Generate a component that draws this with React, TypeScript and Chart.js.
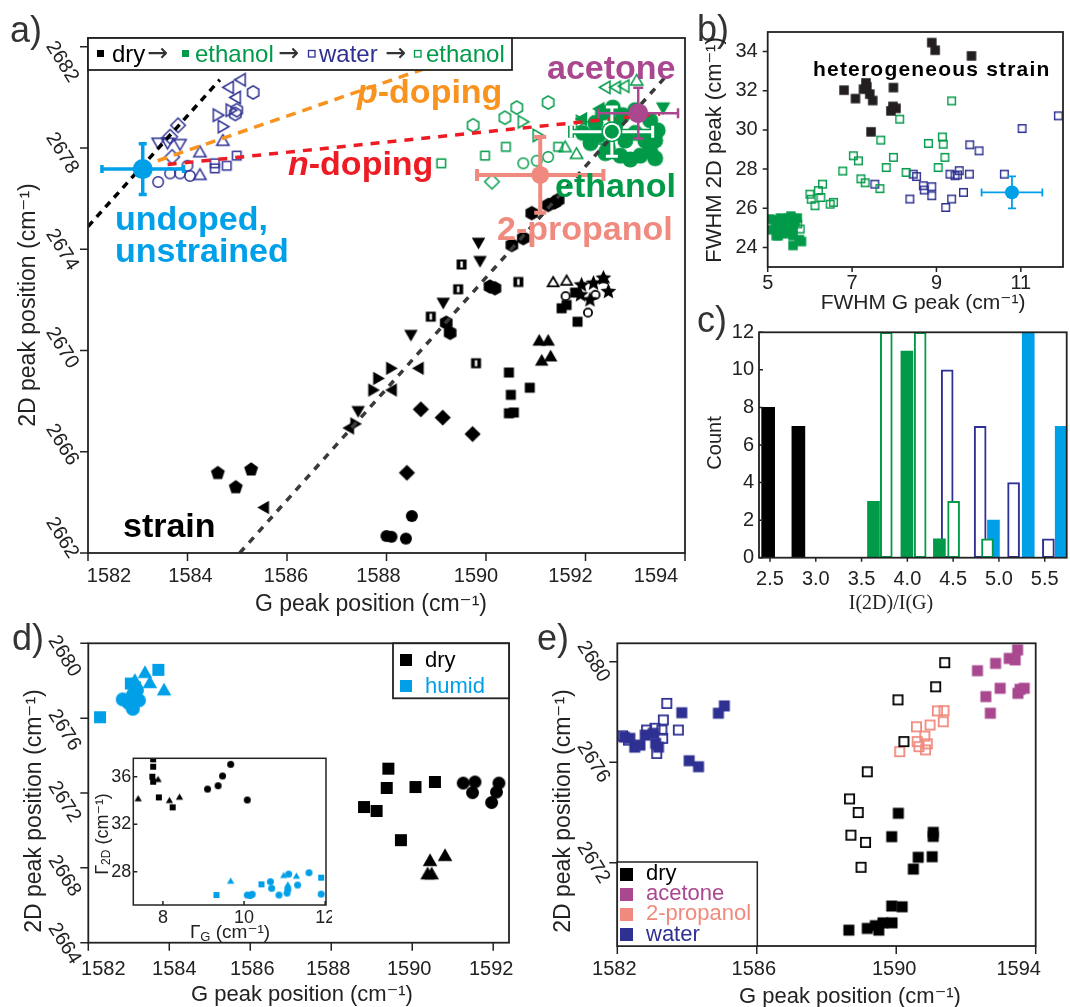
import React, { useEffect, useRef } from 'react';
import { Chart, registerables } from 'chart.js';

Chart.register(...registerables);

type Pt = [number, number];

const SANS = '"Liberation Sans", Arial, "DejaVu Sans", sans-serif';
const SERIF = '"Liberation Serif", "Times New Roman", serif';
const ARROWFONT = '"DejaVu Sans", sans-serif';

const BLACK = '#000000';
const DARK = '#231f20';
const GREEN = '#009a49';
const NAVY = '#2e3192';
const SKY = '#00a0e9';
const SALMON = '#f08a7e';
const PURPLE = '#a9478f';
const ORANGE = '#f7931e';
const RED = '#ed1c24';
const INK = '#222222';

// ================= Panel a data =================
const aTicksX = [1582, 1584, 1586, 1588, 1590, 1592, 1594];
const aTicksY = [2662, 2666, 2670, 2674, 2678, 2682];

const dryPentagon: Pt[] = [[1584.61, 2665.16], [1584.97, 2664.6], [1585.28, 2665.3]];
const dryTriLeft: Pt[] = [[1585.56, 2663.8], [1588.13, 2668.44], [1588.67, 2669.3], [1587.27, 2666.94]];
const dryTriRight: Pt[] = [[1587.71, 2668.44], [1587.81, 2668.9], [1588.07, 2669.3], [1587.35, 2667.1]];
const dryTriDown: Pt[] = [[1587.43, 2667.65], [1588.49, 2670.66], [1589.14, 2671.93], [1589.88, 2673.58], [1589.85, 2674.3]];
const dryHalfSquare: Pt[] = [[1588.89, 2671.34], [1589.44, 2672.42], [1589.51, 2673.4], [1589.8, 2669.5], [1590.65, 2672.71]];
const dryHexagon: Pt[] = [[1589.2, 2671.1], [1589.28, 2670.7], [1590.08, 2672.53], [1590.18, 2672.46], [1590.52, 2674.17], [1590.75, 2674.44], [1590.92, 2675.43], [1591.25, 2675.75], [1591.38, 2675.85], [1591.45, 2675.95]];
const dryDiamond: Pt[] = [[1588.69, 2667.68], [1589.13, 2667.35], [1589.73, 2666.7], [1588.41, 2665.17]];
const dryCircle: Pt[] = [[1588.0, 2662.67], [1588.1, 2662.64], [1588.39, 2662.57], [1588.51, 2663.46]];
const drySquare: Pt[] = [[1590.46, 2669.13], [1590.5, 2668.25], [1590.46, 2667.52], [1590.56, 2667.55], [1590.88, 2668.53], [1591.52, 2671.67], [1591.84, 2671.14], [1591.79, 2672.29], [1591.62, 2671.8]];
const dryTriUp: Pt[] = [[1591.07, 2670.35], [1591.25, 2670.35], [1591.3, 2669.73], [1591.12, 2669.56], [1592.36, 2672.82]];
const dryTriOpen: Pt[] = [[1591.35, 2672.66], [1591.62, 2672.72]];
const dryStar: Pt[] = [[1591.92, 2672.59], [1592.16, 2672.66], [1592.36, 2672.86], [1592.46, 2672.33], [1592.09, 2672.0], [1591.9, 2672.2]];
const dryCircleOpen: Pt[] = [[1591.6, 2672.15], [1592.05, 2671.5], [1592.2, 2672.2]];

const waterCircle: Pt[] = [[1583.41, 2676.66], [1583.65, 2677.0], [1583.85, 2677.0], [1584.05, 2676.9], [1584.0, 2677.3]];
const waterTriUp: Pt[] = [[1584.25, 2677.8], [1584.25, 2676.9], [1584.71, 2678.25]];
const waterSquare: Pt[] = [[1584.55, 2677.4], [1584.55, 2677.2], [1584.79, 2677.3], [1584.99, 2677.7]];
const waterDiamond: Pt[] = [[1583.81, 2678.9], [1583.69, 2677.65], [1583.65, 2678.45]];
const waterTriDown: Pt[] = [[1583.41, 2678.25], [1583.6, 2678.25], [1583.85, 2678.2]];
const waterTriRight: Pt[] = [[1584.59, 2679.3], [1584.69, 2678.85], [1584.85, 2679.5]];
const waterTriLeft: Pt[] = [[1584.85, 2680.4], [1585.09, 2680.7], [1584.99, 2680.0]];
const waterHexagon: Pt[] = [[1585.32, 2680.2], [1584.99, 2679.5], [1584.96, 2679.35]];

const ethOpenHexagon: Pt[] = [[1589.74, 2678.9], [1590.38, 2679.2], [1590.62, 2679.6], [1591.25, 2679.8]];
const ethOpenSquare: Pt[] = [[1589.98, 2677.7], [1590.4, 2678.05], [1589.1, 2677.4], [1591.45, 2678.05]];
const ethOpenTriRight: Pt[] = [[1590.72, 2679.04], [1591.02, 2678.5], [1591.89, 2679.05]];
const ethOpenCircle: Pt[] = [[1590.75, 2677.4], [1591.02, 2677.5], [1591.25, 2677.65]];
const ethOpenDiamond: Pt[] = [[1590.12, 2676.67]];
const ethOpenTriUp: Pt[] = [[1591.59, 2678.0], [1591.82, 2677.73], [1592.29, 2678.3], [1593.03, 2680.63]];
const ethOpenTriLeft: Pt[] = [[1592.42, 2680.4], [1592.63, 2680.4], [1592.8, 2680.45]];

const ethFilledCircle: Pt[] = [[1591.95, 2678.6], [1592.1, 2678.2], [1592.2, 2679.0], [1592.35, 2679.4], [1592.55, 2679.6], [1592.45, 2678.0], [1592.7, 2677.7], [1592.9, 2677.55], [1593.1, 2677.7], [1593.3, 2677.9], [1593.4, 2678.3], [1593.45, 2678.7], [1593.3, 2679.1], [1592.8, 2678.3], [1592.6, 2678.9], [1593.0, 2678.6], [1592.25, 2678.5], [1593.2, 2678.3], [1592.4, 2677.8], [1593.4, 2677.6], [1592.75, 2679.3], [1593.0, 2679.5]];
const ethFilledTriDown: Pt[] = [[1593.56, 2679.64]];
const ethFilledTriLeft: Pt[] = [[1592.3, 2679.55], [1591.95, 2679.15]];

const strainLeft: Pt[] = [[1582.0, 2674.9], [1584.65, 2680.7]];
const strainRight: Pt[] = [[1585.05, 2662.0], [1593.6, 2680.8]];
const pDopingLine: Pt[] = [[1583.4, 2677.5], [1589.0, 2681.3]];
const nDopingLine: Pt[] = [[1583.6, 2677.35], [1593.5, 2679.35]];

// error-bar points: undoped, 2-propanol, ethanol, acetone
const aErrCenters: Pt[] = [[1583.1, 2677.17], [1591.09, 2676.94], [1592.53, 2678.65], [1593.06, 2679.38]];
const aErrX = [0.82, 1.27, 0.82, 0.8];
const aErrY = [1.0, 1.5, 0.97, 1.0];

// ================= Panel b data =================
const bTicksX = [5, 7, 9, 11];
const bTicksY = [24, 26, 28, 30, 32, 34];
const bDry: Pt[] = [[6.81, 32.03], [7.08, 31.6], [7.33, 32.4], [7.27, 32.08], [7.42, 31.83], [7.49, 31.5], [7.45, 29.9], [7.98, 32.16], [7.92, 30.97], [8.04, 31.1], [7.97, 31.2], [8.89, 34.46], [8.97, 34.07], [9.83, 33.78], [7.35, 32.2]];
const bEthOpen: Pt[] = [[8.13, 30.55], [7.68, 29.48], [9.36, 31.48], [8.81, 29.31], [9.14, 29.64], [9.16, 29.27], [9.2, 28.6], [9.04, 28.08], [7.98, 28.6], [7.81, 28.08], [7.03, 28.68], [7.15, 28.42], [6.78, 27.9], [7.21, 27.5], [7.31, 27.3], [7.66, 27.0], [8.28, 27.83], [6.0, 26.72], [6.03, 26.46], [6.2, 26.9], [6.3, 27.23], [6.26, 26.55], [6.12, 26.13], [6.48, 26.21], [6.56, 26.3], [5.77, 24.94], [5.71, 25.2]];
const bWaterOpen: Pt[] = [[11.89, 30.72], [11.03, 30.07], [9.79, 29.24], [10.01, 28.93], [10.61, 27.74], [9.78, 27.74], [9.32, 27.74], [9.44, 27.66], [9.54, 27.92], [9.5, 27.7], [8.45, 27.74], [8.53, 27.62], [7.54, 27.23], [8.69, 27.15], [8.71, 26.93], [8.89, 27.1], [8.89, 26.64], [8.37, 26.47], [9.36, 26.47], [9.22, 26.04], [9.64, 26.81]];
const bEthFilled: Pt[] = [[5.05, 25.45], [5.15, 25.4], [5.2, 25.1], [5.3, 24.9], [5.25, 24.6], [5.35, 25.3], [5.45, 25.0], [5.5, 25.5], [5.55, 25.6], [5.4, 24.7], [5.6, 24.6], [5.65, 25.3], [5.7, 25.5], [5.6, 24.1], [5.8, 24.3], [5.35, 24.8], [5.1, 24.9], [5.5, 24.8], [5.45, 25.4], [5.3, 25.5], [5.2, 24.6], [5.75, 24.4], [5.3, 25.1], [5.6, 25.0]];
const bErrCenter: Pt = [10.79, 26.81];
const bErrXY = [0.72, 0.82];

// ================= Panel c data =================
const cTicksX = [2.5, 3.0, 3.5, 4.0, 4.5, 5.0, 5.5];
const cTicksY = [0, 2, 4, 6, 8, 10, 12];
const cDryX = [2.48, 2.81];
const cDryN = [8, 7];
const cEthFilledX = [3.63, 3.995, 4.35];
const cEthFilledN = [3, 11, 1];
const cEthOpenX = [3.77, 4.14, 4.505, 4.875];
const cEthOpenN = [12, 12, 3, 1];
const cWaterX = [4.435, 4.795, 5.16, 5.54];
const cWaterN = [10, 7, 4, 1];
const cHumidX = [4.94, 5.32, 5.68];
const cHumidN = [2, 12, 7];

// ================= Panel d data =================
const dTicksX = [1582, 1584, 1586, 1588, 1590, 1592];
const dTicksY = [2664, 2668, 2672, 2676, 2680];
const dHumidSquare: Pt[] = [[1582.29, 2676.05], [1583.73, 2678.58], [1583.15, 2677.65], [1583.05, 2677.85]];
const dHumidTri: Pt[] = [[1583.4, 2678.37], [1583.52, 2677.83], [1583.87, 2677.44], [1583.15, 2677.95]];
const dHumidCircle: Pt[] = [[1582.85, 2677.0], [1583.0, 2676.8], [1583.1, 2676.5], [1583.25, 2676.95], [1583.1, 2677.25], [1583.2, 2677.5]];
const dDrySquare: Pt[] = [[1588.81, 2671.25], [1589.12, 2671.04], [1589.41, 2673.3], [1589.37, 2672.27], [1590.08, 2672.32], [1590.56, 2672.59], [1589.72, 2669.48]];
const dDryTri: Pt[] = [[1590.44, 2668.32], [1590.48, 2667.61], [1590.38, 2667.61], [1590.81, 2668.59]];
const dDryCircle: Pt[] = [[1591.26, 2672.53], [1591.55, 2672.59], [1591.49, 2672.02], [1591.96, 2671.49], [1592.08, 2672.05], [1592.14, 2672.53]];

// inset of d
const inTicksX = [8, 10, 12];
const inTicksY = [28, 32, 36];
const inDrySquare: Pt[] = [[7.76, 37.46], [7.76, 36.84], [7.74, 36.0], [7.76, 35.58], [7.9, 34.26], [8.24, 33.42]];
const inDryTri: Pt[] = [[7.39, 34.1], [7.88, 35.72], [8.16, 33.95], [8.41, 34.23]];
const inDryCircle: Pt[] = [[9.1, 34.96], [9.36, 35.24], [9.47, 36.06], [9.67, 37.04], [10.08, 34.04]];
const inHumidSquare: Pt[] = [[9.32, 26.04], [10.43, 26.94], [11.9, 27.5]];
const inHumidTri: Pt[] = [[9.67, 27.16], [10.98, 27.64], [11.08, 26.85], [11.29, 27.58]];
const inHumidCircle: Pt[] = [[10.08, 26.04], [10.15, 26.0], [10.2, 26.1], [10.65, 27.16], [10.68, 26.6], [10.86, 26.04], [11.1, 27.8], [11.08, 26.52], [11.06, 26.2], [11.32, 26.88], [11.6, 27.92], [11.9, 26.12]];

// ================= Panel e data =================
const eTicksX = [1582, 1586, 1590, 1594];
const eTicksY = [2672, 2676, 2680];
const eWaterFilled: Pt[] = [[1582.2, 2677.0], [1582.36, 2676.95], [1582.5, 2676.6], [1582.65, 2676.68], [1582.8, 2677.08], [1583.03, 2677.15], [1583.1, 2676.75], [1583.18, 2676.6], [1583.85, 2677.97], [1584.06, 2676.06], [1584.33, 2675.82], [1584.9, 2677.95], [1585.07, 2678.24]];
const eWaterOpen: Pt[] = [[1583.42, 2678.34], [1583.32, 2677.68], [1582.84, 2677.28], [1582.32, 2676.88], [1583.75, 2677.28], [1583.28, 2677.28], [1583.3, 2676.95], [1583.13, 2676.35], [1582.15, 2677.05], [1583.08, 2677.35]];
const eDryOpen: Pt[] = [[1591.39, 2679.96], [1591.13, 2679.0], [1590.05, 2678.48], [1590.22, 2676.82], [1589.17, 2675.62], [1588.66, 2674.54], [1588.91, 2674.0], [1588.7, 2673.1], [1589.12, 2672.81], [1588.99, 2671.82]];
const eDryFilled: Pt[] = [[1590.06, 2673.97], [1589.87, 2673.04], [1591.06, 2673.21], [1591.06, 2673.05], [1591.03, 2672.24], [1590.63, 2672.22], [1590.49, 2671.75], [1589.87, 2670.28], [1590.17, 2670.25], [1589.88, 2669.61], [1589.62, 2669.61], [1589.17, 2669.39], [1589.5, 2669.32], [1588.64, 2669.32], [1589.4, 2669.5]];
const eAcetone: Pt[] = [[1592.33, 2679.64], [1592.85, 2679.93], [1593.24, 2680.13], [1593.48, 2680.47], [1593.41, 2680.07], [1592.57, 2678.61], [1592.98, 2678.94], [1592.7, 2677.95], [1593.49, 2678.74], [1593.67, 2678.94], [1593.55, 2678.9]];
const ePropanol: Pt[] = [[1590.1, 2676.42], [1590.58, 2677.41], [1590.97, 2677.48], [1590.82, 2677.04], [1590.6, 2676.82], [1590.65, 2676.62], [1590.84, 2676.49], [1590.89, 2676.73], [1591.18, 2678.04], [1591.37, 2678.05], [1591.35, 2677.61]];

// ================= helpers =================
const markerCache = new Map<string, HTMLCanvasElement>();
function marker(shape: string, size: number, color: string, filled: boolean, lw = 1.5): HTMLCanvasElement {
  const key = [shape, size, color, filled, lw].join('|');
  const hit = markerCache.get(key);
  if (hit) return hit;
  const ext = Math.ceil(size * 1.35 + lw * 2 + 2);
  const c = document.createElement('canvas');
  c.width = ext;
  c.height = ext;
  const g = c.getContext('2d') as CanvasRenderingContext2D;
  g.translate(ext / 2, ext / 2);
  g.fillStyle = color;
  g.strokeStyle = color;
  g.lineWidth = lw;
  g.lineJoin = 'miter';
  const inset = filled ? 0 : lw / 2;
  const poly = (n: number, rot: number, R: number) => {
    g.beginPath();
    for (let i = 0; i < n; i++) {
      const a = rot + (i * 2 * Math.PI) / n;
      const px = R * Math.cos(a);
      const py = R * Math.sin(a);
      if (i === 0) g.moveTo(px, py);
      else g.lineTo(px, py);
    }
    g.closePath();
  };
  switch (shape) {
    case 'circle':
      g.beginPath();
      g.arc(0, 0, size / 2 - inset, 0, Math.PI * 2);
      break;
    case 'square':
    case 'halfSquare': {
      const h = size / 2 - inset;
      g.beginPath();
      g.rect(-h, -h, 2 * h, 2 * h);
      break;
    }
    case 'triUp': poly(3, -Math.PI / 2, size * 0.6 - inset); break;
    case 'triDown': poly(3, Math.PI / 2, size * 0.6 - inset); break;
    case 'triLeft': poly(3, Math.PI, size * 0.6 - inset); break;
    case 'triRight': poly(3, 0, size * 0.6 - inset); break;
    case 'diamond': poly(4, -Math.PI / 2, size * 0.62 - inset); break;
    case 'pentagon': poly(5, -Math.PI / 2, size * 0.56 - inset); break;
    case 'hexagon': poly(6, -Math.PI / 2, size * 0.56 - inset); break;
    case 'star': {
      const R = size * 0.64;
      g.beginPath();
      for (let i = 0; i < 10; i++) {
        const a = -Math.PI / 2 + (i * Math.PI) / 5;
        const r = i % 2 ? R * 0.45 : R;
        const px = r * Math.cos(a);
        const py = r * Math.sin(a);
        if (i === 0) g.moveTo(px, py);
        else g.lineTo(px, py);
      }
      g.closePath();
      break;
    }
  }
  if (filled) g.fill();
  else g.stroke();
  if (shape === 'halfSquare') {
    g.fillStyle = '#ffffff';
    g.fillRect(-size * 0.12, -size * 0.3, size * 0.24, size * 0.6);
  }
  markerCache.set(key, c);
  return c;
}

const toXY = (arr: Pt[]) => arr.map(([x, y]) => ({ x, y }));

function sc(arr: Pt[], shape: string, color: string, filled: boolean, size: number, lw = 1.5) {
  return {
    type: 'scatter',
    data: toXY(arr),
    pointStyle: marker(shape, size, color, filled, lw),
    pointRadius: 4,
    pointHoverRadius: 4,
    showLine: false,
  };
}

function dline(arr: Pt[], color: string, dash: number[], lw: number) {
  return {
    type: 'line',
    data: toXY(arr),
    borderColor: color,
    borderDash: dash,
    borderWidth: lw,
    pointRadius: 0,
    showLine: true,
    fill: false,
    tension: 0,
  };
}

function bars(xs: number[], ns: number[], fill: string, stroke: string, bw: number, thick: number) {
  return {
    type: 'bar',
    data: xs.map((x, i) => ({ x, y: ns[i] })),
    backgroundColor: fill,
    borderColor: stroke,
    borderWidth: bw,
    borderSkipped: false,
    barThickness: thick,
    grouped: false,
  };
}

const F = (f: string, fam = SANS) => `${f} ${fam}`;

function drawText(ctx: CanvasRenderingContext2D, it: any) {
  const parts = it.parts || [{ t: it.t, f: it.f }];
  ctx.save();
  ctx.translate(it.x, it.y);
  if (it.rot) ctx.rotate((it.rot * Math.PI) / 180);
  ctx.fillStyle = it.c || INK;
  (ctx as any).letterSpacing = `${it.ls || 0}px`;
  ctx.textAlign = 'left';
  ctx.textBaseline = it.base || 'alphabetic';
  let w = 0;
  for (const p of parts) {
    ctx.font = F(p.f, it.fam || SANS);
    w += ctx.measureText(p.t).width;
  }
  let cx = it.align === 'center' ? -w / 2 : it.align === 'right' ? -w : 0;
  for (const p of parts) {
    ctx.font = F(p.f, it.fam || SANS);
    ctx.fillText(p.t, cx, p.dy || 0);
    cx += ctx.measureText(p.t).width;
  }
  ctx.restore();
}

function deco(spec: any, ox: number, oy: number) {
  return {
    id: 'deco',
    afterDatasetsDraw(chart: any) {
      const ctx: CanvasRenderingContext2D = chart.ctx;
      const ca = chart.chartArea;
      const sx = chart.scales.x;
      const sy = chart.scales.y;
      ctx.save();
      // error bars
      for (const e of spec.errorBars || []) {
        const cx = sx.getPixelForValue(e.x);
        const cy = sy.getPixelForValue(e.y);
        const x0 = sx.getPixelForValue(e.x - e.xerr);
        const x1 = sx.getPixelForValue(e.x + e.xerr);
        const y0 = sy.getPixelForValue(e.y - e.yerr);
        const y1 = sy.getPixelForValue(e.y + e.yerr);
        const path = () => {
          ctx.beginPath();
          ctx.moveTo(x0, cy); ctx.lineTo(x1, cy);
          ctx.moveTo(cx, y0); ctx.lineTo(cx, y1);
          ctx.moveTo(x0, cy - e.cap); ctx.lineTo(x0, cy + e.cap);
          ctx.moveTo(x1, cy - e.cap); ctx.lineTo(x1, cy + e.cap);
          ctx.moveTo(cx - e.cap, y0); ctx.lineTo(cx + e.cap, y0);
          ctx.moveTo(cx - e.cap, y1); ctx.lineTo(cx + e.cap, y1);
        };
        ctx.setLineDash([]);
        ctx.lineCap = 'butt';
        if (e.outline) {
          ctx.strokeStyle = e.outline;
          ctx.lineWidth = e.lw + 3;
          path();
          ctx.stroke();
        }
        ctx.strokeStyle = e.color;
        ctx.lineWidth = e.lw;
        path();
        ctx.stroke();
        if (e.outline) {
          ctx.beginPath();
          ctx.arc(cx, cy, e.r + 3.5, 0, Math.PI * 2);
          ctx.fillStyle = e.outline;
          ctx.fill();
          ctx.beginPath();
          ctx.arc(cx, cy, e.r + 2, 0, Math.PI * 2);
          ctx.fillStyle = '#ffffff';
          ctx.fill();
        }
        ctx.beginPath();
        ctx.arc(cx, cy, e.r, 0, Math.PI * 2);
        ctx.fillStyle = e.fill || e.color;
        ctx.fill();
      }
      // frame
      if (spec.frame) {
        ctx.strokeStyle = INK;
        ctx.lineWidth = spec.frame;
        ctx.strokeRect(ca.left, ca.top, ca.right - ca.left, ca.bottom - ca.top);
      }
      // ticks
      ctx.strokeStyle = INK;
      ctx.fillStyle = INK;
      const xt = spec.xTicks;
      if (xt) {
        ctx.lineWidth = 1.5;
        ctx.beginPath();
        xt.values.forEach((v: number) => {
          const p = sx.getPixelForValue(v);
          ctx.moveTo(p, ca.bottom);
          ctx.lineTo(p, ca.bottom + (xt.inward ? -xt.len : xt.len));
        });
        ctx.stroke();
        ctx.font = F(xt.font, xt.fam || SANS);
        ctx.textAlign = 'center';
        ctx.textBaseline = 'middle';
        xt.values.forEach((v: number, i: number) => {
          const p = sx.getPixelForValue(v) + (xt.shift ? xt.shift[i] : 0);
          ctx.fillText(xt.fmt ? xt.fmt(v) : String(v), p, ca.bottom + xt.dy);
        });
      }
      const yt = spec.yTicks;
      if (yt) {
        ctx.lineWidth = 1.5;
        ctx.beginPath();
        yt.values.forEach((v: number) => {
          const p = sy.getPixelForValue(v);
          ctx.moveTo(ca.left, p);
          ctx.lineTo(ca.left + (yt.inward ? yt.len : -yt.len), p);
        });
        ctx.stroke();
        ctx.font = F(yt.font);
        yt.values.forEach((v: number, i: number) => {
          const p = sy.getPixelForValue(v) + (yt.dy ? yt.dy[i] : 0);
          const label = yt.fmt ? yt.fmt(v) : String(v);
          if (yt.rot) {
            ctx.save();
            ctx.translate(ca.left - yt.dx, p);
            ctx.rotate((yt.rot * Math.PI) / 180);
            ctx.textAlign = 'center';
            ctx.textBaseline = 'middle';
            ctx.fillText(label, 0, 0);
            ctx.restore();
          } else {
            ctx.textAlign = 'right';
            ctx.textBaseline = 'middle';
            ctx.fillText(label, ca.left - yt.dx, p);
          }
        });
      }
      // page-coordinate overlays
      ctx.translate(-ox, -oy);
      for (const r of spec.rects || []) {
        if (r.fill) {
          ctx.fillStyle = r.fill;
          ctx.fillRect(r.x, r.y, r.w, r.h);
        }
        if (r.stroke) {
          ctx.strokeStyle = r.stroke;
          ctx.lineWidth = r.lw || 1.5;
          ctx.strokeRect(r.x, r.y, r.w, r.h);
        }
      }
      for (const it of spec.texts || []) drawText(ctx, it);
      ctx.restore();
    },
  };
}

// ================= builders =================
function buildA() {
  const datasets = [
    dline(strainLeft, BLACK, [7, 6], 3.5),
    dline(strainRight, '#3a3a3a', [7, 7], 3.5),
    dline(pDopingLine, ORANGE, [10, 7], 3.5),
    dline(nDopingLine, RED, [9, 8], 3.5),
    sc(dryPentagon, 'pentagon', BLACK, true, 13),
    sc(dryTriLeft, 'triLeft', BLACK, true, 13),
    sc(dryTriRight, 'triRight', BLACK, true, 13),
    sc(dryTriDown, 'triDown', BLACK, true, 13),
    sc(dryHalfSquare, 'halfSquare', BLACK, true, 10),
    sc(dryHexagon, 'hexagon', BLACK, true, 13),
    sc(dryDiamond, 'diamond', BLACK, true, 13),
    sc(dryCircle, 'circle', BLACK, true, 12),
    sc(drySquare, 'square', BLACK, true, 10),
    sc(dryTriUp, 'triUp', BLACK, true, 13),
    sc(dryTriOpen, 'triUp', BLACK, false, 12, 1.8),
    sc(dryStar, 'star', BLACK, true, 13),
    sc(dryCircleOpen, 'circle', BLACK, false, 10, 1.8),
    sc(waterCircle, 'circle', NAVY, false, 12),
    sc(waterTriUp, 'triUp', NAVY, false, 13),
    sc(waterSquare, 'square', NAVY, false, 10),
    sc(waterDiamond, 'diamond', NAVY, false, 13),
    sc(waterTriDown, 'triDown', NAVY, false, 13),
    sc(waterTriRight, 'triRight', NAVY, false, 13),
    sc(waterTriLeft, 'triLeft', NAVY, false, 13),
    sc(waterHexagon, 'hexagon', NAVY, false, 13),
    sc(ethOpenHexagon, 'hexagon', GREEN, false, 13),
    sc(ethOpenSquare, 'square', GREEN, false, 10),
    sc(ethOpenTriRight, 'triRight', GREEN, false, 13),
    sc(ethOpenCircle, 'circle', GREEN, false, 12),
    sc(ethOpenDiamond, 'diamond', GREEN, false, 13),
    sc(ethOpenTriUp, 'triUp', GREEN, false, 13),
    sc(ethOpenTriLeft, 'triLeft', GREEN, false, 13),
    sc(ethFilledCircle, 'circle', GREEN, true, 16),
    sc(ethFilledTriDown, 'triDown', GREEN, true, 14),
    sc(ethFilledTriLeft, 'triLeft', GREEN, true, 14),
  ];
  const errStyle = [
    { color: SKY, lw: 3.5, cap: 4, r: 10 },
    { color: SALMON, lw: 4, cap: 6, r: 9 },
    { color: '#ffffff', outline: GREEN, fill: GREEN, lw: 3, cap: 6, r: 7 },
    { color: PURPLE, lw: 2.5, cap: 5, r: 10 },
  ];
  const errorBars = aErrCenters.map(([x, y], i) => ({ x, y, xerr: aErrX[i], yerr: aErrY[i], ...errStyle[i] }));
  const big = 'bold 34px';
  const lgY = 61.5;
  const spec = {
    frame: 1.8,
    errorBars,
    xTicks: { values: aTicksX, font: '20px', dy: 23.5, len: 8, shift: [21, 3, -1, -8, -10, -15, -29] },
    yTicks: { values: aTicksY, font: '20px', dx: 26, len: 8, rot: 58, dy: [-15, -7, -2.5, 0.5, 5, 15] },
    rects: [
      { x: 88, y: 38, w: 424, h: 32, fill: '#ffffff', stroke: INK, lw: 1.8 },
      { x: 97, y: 50, w: 7, h: 7, fill: BLACK },
      { x: 182, y: 50, w: 7, h: 7, fill: GREEN },
      { x: 308.5, y: 50.5, w: 6.5, h: 6.5, stroke: NAVY, lw: 1.3 },
      { x: 414.5, y: 50.5, w: 6.5, h: 6.5, stroke: GREEN, lw: 1.3 },
    ],
    texts: [
      { t: 'a)', x: 10, y: 42, f: '36px', c: '#333' },
      { t: '2D peak position (cm⁻¹)', x: 29, y: 305, f: '23px', rot: -90, align: 'center', base: 'middle' },
      { t: 'G peak position (cm⁻¹)', x: 371, y: 605, f: '23px', align: 'center', base: 'middle' },
      { t: 'dry', x: 112, y: lgY, f: '24px', c: BLACK },
      { t: '→', x: 147, y: lgY - 1, f: '25px', fam: ARROWFONT, c: '#333' },
      { t: 'ethanol', x: 195, y: lgY, f: '24px', c: GREEN },
      { t: '→', x: 278, y: lgY - 1, f: '25px', fam: ARROWFONT, c: '#333' },
      { t: 'water', x: 319, y: lgY, f: '24px', c: NAVY },
      { t: '→', x: 385, y: lgY - 1, f: '25px', fam: ARROWFONT, c: '#333' },
      { t: 'ethanol', x: 426, y: lgY, f: '24px', c: GREEN },
      { t: 'acetone', x: 547, y: 79, f: big, c: PURPLE },
      { parts: [{ t: 'p', f: 'italic bold 34px' }, { t: '-doping', f: big }], x: 357, y: 103, c: ORANGE },
      { parts: [{ t: 'n', f: 'italic bold 34px' }, { t: '-doping', f: big }], x: 288, y: 175, c: RED },
      { t: 'ethanol', x: 555, y: 197, f: big, c: GREEN },
      { t: '2-propanol', x: 497, y: 240, f: big, c: SALMON },
      { t: 'undoped,', x: 115, y: 230, f: big, c: SKY },
      { t: 'unstrained', x: 115, y: 262, f: big, c: SKY },
      { t: 'strain', x: 123, y: 537, f: big, c: BLACK },
    ],
  };
  return { type: 'scatter', datasets, x: [1582, 1594], y: [2662, 2682.35], spec };
}

function buildB() {
  const datasets = [
    sc(bDry, 'square', DARK, true, 9.5),
    sc(bEthOpen, 'square', GREEN, false, 9, 1.4),
    sc(bWaterOpen, 'square', NAVY, false, 9, 1.4),
    sc(bEthFilled, 'square', GREEN, true, 9.5),
  ];
  const spec = {
    frame: 1.8,
    errorBars: [{ x: bErrCenter[0], y: bErrCenter[1], xerr: bErrXY[0], yerr: bErrXY[1], color: SKY, lw: 1.8, cap: 4, r: 7 }],
    xTicks: { values: bTicksX, font: '20px', dy: 16.5, len: 5 },
    yTicks: { values: bTicksY, font: '20px', dx: 10, len: 5 },
    texts: [
      { t: 'b)', x: 697, y: 41, f: '36px', c: '#333' },
      { t: 'heterogeneous strain', x: 813, y: 76, f: 'bold 21px', c: BLACK, ls: 1.2 },
      { t: 'FWHM 2D peak (cm⁻¹)', x: 715, y: 150, f: '22px', rot: -90, align: 'center', base: 'middle' },
      { t: 'FWHM G peak (cm⁻¹)', x: 923, y: 303, f: '21px', align: 'center', base: 'middle' },
    ],
  };
  return { type: 'scatter', datasets, x: [5, 12], y: [23, 35], spec };
}

function buildC() {
  const datasets = [
    bars(cDryX, cDryN, BLACK, BLACK, 0, 13),
    bars(cEthFilledX, cEthFilledN, GREEN, GREEN, 0, 12),
    bars(cEthOpenX, cEthOpenN, '#ffffff', GREEN, 2, 12),
    bars(cWaterX, cWaterN, '#ffffff', NAVY, 2, 12),
    bars(cHumidX, cHumidN, SKY, SKY, 0, 12),
  ];
  const spec = {
    frame: 1.8,
    xTicks: { values: cTicksX, font: '20px', dy: 22, len: 4, fmt: (v: number) => v.toFixed(1) },
    yTicks: { values: cTicksY, font: '20px', dx: 5, len: 4, inward: true },
    texts: [
      { t: 'c)', x: 697, y: 332, f: '36px', c: '#333' },
      { t: 'Count', x: 715, y: 443, f: '20px', rot: -90, align: 'center', base: 'middle' },
      { t: 'I(2D)/I(G)', x: 891, y: 604, f: '20px', fam: SERIF, align: 'center', base: 'middle' },
    ],
  };
  return { type: 'bar', datasets, x: [2.38, 5.74], y: [0, 12], spec };
}

function buildD() {
  const datasets = [
    sc(dHumidSquare, 'square', SKY, true, 12),
    sc(dHumidTri, 'triUp', SKY, true, 14),
    sc(dHumidCircle, 'circle', SKY, true, 14),
    sc(dDrySquare, 'square', BLACK, true, 12),
    sc(dDryTri, 'triUp', BLACK, true, 14),
    sc(dDryCircle, 'circle', BLACK, true, 13),
  ];
  const spec = {
    frame: 1.8,
    xTicks: { values: dTicksX, font: '20px', dy: 27, len: 8, shift: [15, 5, 2, -3, -3, -2] },
    yTicks: { values: dTicksY, font: '20px', dx: 24, len: 8, rot: 58, dy: [1, 8, 9, 12, 13] },
    rects: [
      { x: 393, y: 643.3, w: 116, h: 55, fill: '#ffffff', stroke: INK, lw: 1.8 },
      { x: 400, y: 654, w: 12, h: 12, fill: BLACK },
      { x: 400, y: 680, w: 12, h: 12, fill: SKY },
    ],
    texts: [
      { t: 'd)', x: 12, y: 650, f: '36px', c: '#333' },
      { t: '2D peak position (cm⁻¹)', x: 35, y: 811, f: '23px', rot: -90, align: 'center', base: 'middle' },
      { t: 'G peak position (cm⁻¹)', x: 302, y: 995, f: '22px', align: 'center', base: 'middle' },
      { t: 'dry', x: 425, y: 667, f: '22px', c: BLACK },
      { t: 'humid', x: 425, y: 693, f: '22px', c: SKY },
    ],
  };
  return { type: 'scatter', datasets, x: [1582, 1592.39], y: [2664, 2680], spec };
}

function buildInset() {
  const datasets = [
    sc(inDrySquare, 'square', BLACK, true, 6),
    sc(inDryTri, 'triUp', BLACK, true, 7),
    sc(inDryCircle, 'circle', BLACK, true, 7),
    sc(inHumidSquare, 'square', SKY, true, 6),
    sc(inHumidTri, 'triUp', SKY, true, 7),
    sc(inHumidCircle, 'circle', SKY, true, 7),
  ];
  const spec = {
    frame: 1.5,
    xTicks: { values: inTicksX, font: '18px', dy: 13.5, len: 4, inward: true },
    yTicks: { values: inTicksY, font: '18px', dx: 2, len: 4, inward: true },
    texts: [
      { parts: [{ t: 'Γ', f: '18px' }, { t: '2D', f: '12px', dy: 4 }, { t: ' (cm⁻¹)', f: '18px' }], x: 103, y: 834, rot: -90, align: 'center', base: 'middle' },
      { parts: [{ t: 'Γ', f: '19px' }, { t: 'G', f: '13px', dy: 4 }, { t: ' (cm⁻¹)', f: '19px' }], x: 230, y: 933, align: 'center', base: 'middle' },
    ],
  };
  return { type: 'scatter', datasets, x: [7.27, 12.02], y: [25.2, 37.55], spec };
}

function buildE() {
  const datasets = [
    sc(eWaterOpen, 'square', NAVY, false, 11, 1.8),
    sc(eDryOpen, 'square', BLACK, false, 11, 1.8),
    sc(ePropanol, 'square', SALMON, false, 11, 1.8),
    sc(eWaterFilled, 'square', NAVY, true, 11),
    sc(eDryFilled, 'square', BLACK, true, 11),
    sc(eAcetone, 'square', PURPLE, true, 11),
  ];
  const spec = {
    frame: 1.8,
    xTicks: { values: eTicksX, font: '20px', dy: 23.5, len: 8, shift: [-3, -3, -2, -17] },
    yTicks: { values: eTicksY, font: '20px', dx: 24, len: 8, rot: 58, dy: [0, 0, 0] },
    rects: [
      { x: 617.3, y: 862, w: 140, h: 84, fill: '#ffffff', stroke: INK, lw: 1.5 },
      { x: 620, y: 868, w: 13, h: 13, fill: BLACK },
      { x: 620, y: 888, w: 13, h: 13, fill: PURPLE },
      { x: 620, y: 908, w: 13, h: 13, fill: SALMON },
      { x: 620, y: 928, w: 13, h: 13, fill: NAVY },
    ],
    texts: [
      { t: 'e)', x: 537, y: 650, f: '36px', c: '#333' },
      { t: '2D peak position (cm⁻¹)', x: 564, y: 811, f: '23px', rot: -90, align: 'center', base: 'middle' },
      { t: 'G peak position (cm⁻¹)', x: 850, y: 997, f: '22px', align: 'center', base: 'middle' },
      { t: 'dry', x: 646, y: 880, f: '22px', c: BLACK },
      { t: 'acetone', x: 646, y: 900, f: '22px', c: PURPLE },
      { t: '2-propanol', x: 646, y: 920, f: '22px', c: SALMON },
      { t: 'water', x: 646, y: 940.5, f: '22px', c: NAVY },
    ],
  };
  return { type: 'scatter', datasets, x: [1582, 1594], y: [2668.69, 2680.73], spec };
}

// ================= component =================
type PanelProps = {
  left: number;
  top: number;
  width: number;
  height: number;
  area: [number, number, number, number];
  build: () => any;
};

function Panel({ left, top, width, height, area, build }: PanelProps) {
  const ref = useRef<HTMLCanvasElement | null>(null);
  useEffect(() => {
    const [L, T, R, B] = area;
    const b = build();
    const zeroPad = (s: any) => {
      s.paddingLeft = 0;
      s.paddingRight = 0;
      s.paddingTop = 0;
      s.paddingBottom = 0;
    };
    const axis = (min: number, max: number, fit: (s: any) => void) => ({
      type: 'linear',
      min,
      max,
      offset: false,
      display: true,
      ticks: { display: false },
      grid: { display: false },
      border: { display: false },
      title: { display: false },
      afterFit: fit,
    });
    const chart = new Chart(ref.current as HTMLCanvasElement, {
      type: b.type,
      data: { datasets: b.datasets },
      options: {
        responsive: false,
        animation: false,
        devicePixelRatio: 1,
        events: [],
        layout: { padding: { left: 0, top: T - top, right: left + width - R, bottom: 0 } },
        plugins: { legend: { display: false }, tooltip: { enabled: false } },
        scales: {
          x: axis(b.x[0], b.x[1], (s: any) => { s.height = top + height - B; zeroPad(s); }),
          y: axis(b.y[0], b.y[1], (s: any) => { s.width = L - left; zeroPad(s); }),
        },
      },
      plugins: [deco(b.spec, left, top)],
    } as any);
    return () => chart.destroy();
  }, []);
  return (
    <canvas
      ref={ref}
      width={width}
      height={height}
      style={{ position: 'absolute', left, top, width, height, display: 'block' }}
    />
  );
}

export default function App() {
  return (
    <div style={{ position: 'absolute', left: 0, top: 0, width: 1070, height: 1007, overflow: 'hidden', background: '#ffffff' }}>
      <Panel left={0} top={0} width={690} height={620} area={[88, 38, 685, 553]} build={buildA} />
      <Panel left={690} top={0} width={380} height={320} area={[767.7, 32, 1063, 267]} build={buildB} />
      <Panel left={690} top={300} width={380} height={320} area={[759, 332.3, 1066.7, 557.7]} build={buildC} />
      <Panel left={0} top={620} width={525} height={387} area={[88.3, 643.3, 509, 942.7]} build={buildD} />
      <Panel left={90} top={752} width={242} height={195} area={[133.3, 758.3, 326, 905]} build={buildInset} />
      <Panel left={525} top={620} width={545} height={387} area={[617.3, 643.3, 1035.7, 946]} build={buildE} />
    </div>
  );
}
